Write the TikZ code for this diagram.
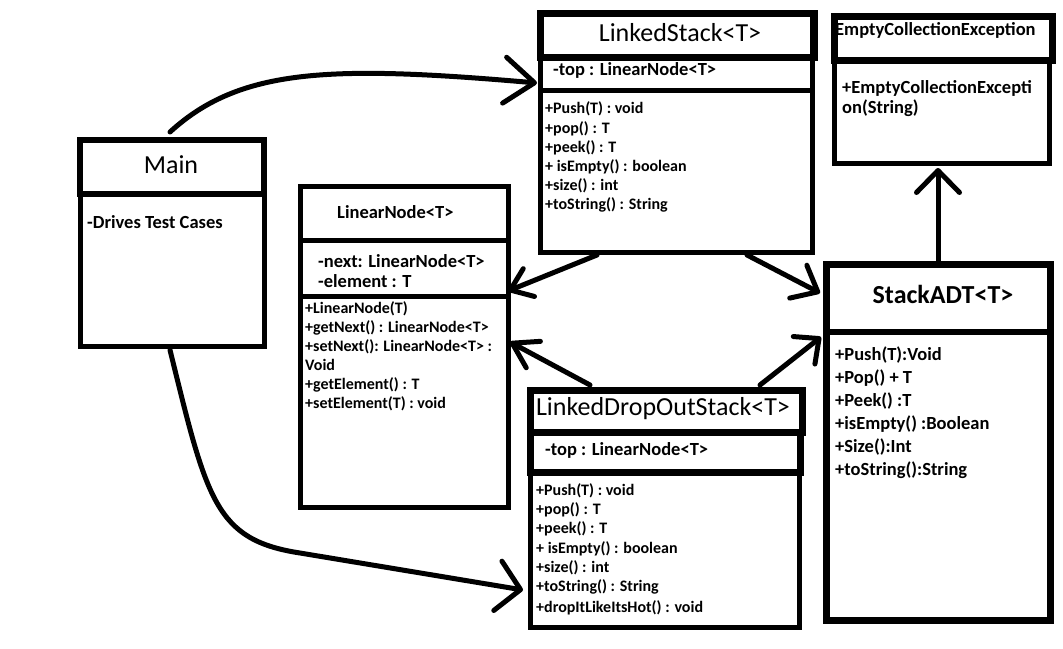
\documentclass[tikz,border=0pt]{standalone}
\usepackage{fontspec}
\setmainfont{Carlito}
\usetikzlibrary{arrows.meta}
\tikzset{
  box/.style={draw, line width=5pt, inner sep=0pt, outer sep=0pt},
  hbox/.style={box, line width=7pt},
  sep/.style={line width=5pt},
  title/.style={anchor=base, inner sep=0pt, font=\fontsize{26}{28}\selectfont},
  btitle/.style={anchor=base, inner sep=0pt, font=\bfseries\fontsize{26}{28}\selectfont},
  attr/.style={anchor=base west, inner sep=0pt, font=\bfseries\fontsize{18.5}{20}\selectfont},
  meth/.style={anchor=base west, inner sep=0pt, font=\bfseries\fontsize{16}{18}\selectfont},
  conn/.style={line width=5pt, line cap=round, line join=round},
}
\newcommand\barb[2]{-{Straight Barb[length=#1pt,width=#2pt,round]}}
\begin{document}
\begin{tikzpicture}[x=1pt,y=-1pt]
\useasboundingbox[fill=white] (0,0) rectangle (1063,648);

% ---------- Main ----------
\node[box, minimum width=184pt, minimum height=206pt] (main) at (172,243) {};
\node[box, line width=6pt, minimum width=184pt, minimum height=54pt] (mainh) at (172,167) {};
\node[title] (maint) at (171,173) {Main};
\node[attr] (maina) at (87,228) {-Drives Test Cases};

% ---------- LinkedStack ----------
\node[box, minimum width=272pt, minimum height=239pt] (ls) at (676,132.5) {};
\node[hbox, minimum width=274pt, minimum height=44pt] (lsh) at (677,35) {};
\draw[sep] (ls.west |- 0,90) -- (ls.east |- 0,90);
\node[title] (lst) at (680,41) {LinkedStack<T>};
\node[attr] (lsa) at (553,75) {-top : LinearNode<T>};
\node[meth] (lsm1) at (545,113) {+Push(T) : void};
\node[meth] (lsm2) at (545,133) {+pop() : T};
\node[meth] (lsm3) at (545,152) {+peek() : T};
\node[meth] (lsm4) at (545,171) {+ isEmpty() : boolean};
\node[meth] (lsm5) at (545,190) {+size() : int};
\node[meth] (lsm6) at (545,209) {+toString() : String};

% ---------- EmptyCollectionException ----------
\node[hbox, minimum width=218pt, minimum height=44pt] (eceh) at (943,38) {};
\node[box, minimum width=215pt, minimum height=103pt] (ece) at (941.5,111.5) {};
\node[attr] (ecet) at (835,35) {EmptyCollectionException};
\node[attr] (ecem1) at (842,93) {+EmptyCollectionExcepti};
\node[attr] (ecem2) at (842,113) {on(String)};

% ---------- LinearNode ----------
\node[box, minimum width=208pt, minimum height=321pt] (ln) at (404,346.5) {};
\draw[sep] (ln.west |- 0,240) -- (ln.east |- 0,240);
\draw[sep] (ln.west |- 0,296) -- (ln.east |- 0,296);
\node[attr] (lnt) at (337,218) {LinearNode<T>};
\node[attr] (lna1) at (318,267) {-next: LinearNode<T>};
\node[attr] (lna2) at (318,287) {-element : T};
\node[meth] (lnm1) at (305,313) {+LinearNode(T)};
\node[meth] (lnm2) at (305,332) {+getNext() : LinearNode<T>};
\node[meth] (lnm3) at (305,351) {+setNext(): LinearNode<T> :};
\node[meth] (lnm4) at (305,370) {Void};
\node[meth] (lnm5) at (305,389) {+getElement() : T};
\node[meth] (lnm6) at (305,408) {+setElement(T) : void};

% ---------- LinkedDropOutStack ----------
\node[box, minimum width=269pt, minimum height=155pt] (ld) at (664.5,549.5) {};
\node[hbox, minimum width=270pt, minimum height=40pt] (lda) at (665,452) {};
\node[hbox, minimum width=272pt, minimum height=42pt] (ldh) at (666,411) {};
\node[title] (ldt) at (663,415) {LinkedDropOutStack<T>};
\node[attr] (ldat) at (545,455) {-top : LinearNode<T>};
\node[meth] (ldm1) at (536,495) {+Push(T) : void};
\node[meth] (ldm2) at (536,514) {+pop() : T};
\node[meth] (ldm3) at (536,533) {+peek() : T};
\node[meth] (ldm4) at (536,553) {+ isEmpty() : boolean};
\node[meth] (ldm5) at (536,572) {+size() : int};
\node[meth] (ldm6) at (536,591) {+toString() : String};
\node[meth] (ldm7) at (536,612) {+dropItLikeItsHot() : void};

% ---------- StackADT ----------
\node[hbox, minimum width=224pt, minimum height=356pt] (adt) at (938,442) {};
\draw[line width=6pt] (adt.west |- 0,332) -- (adt.east |- 0,332);
\node[btitle] (adtt) at (943,303) {StackADT<T>};
\node[attr] (adtm1) at (835,360) {+Push(T):Void};
\node[attr] (adtm2) at (835,383) {+Pop() + T};
\node[attr] (adtm3) at (835,406) {+Peek() :T};
\node[attr] (adtm4) at (835,429) {+isEmpty() :Boolean};
\node[attr] (adtm5) at (835,452) {+Size():Int};
\node[attr] (adtm6) at (835,475) {+toString():String};

% ---------- connector end points ----------
\coordinate (c1s) at (170,132);  \coordinate (c1e) at (537,83);
\coordinate (c2s) at (170,350);  \coordinate (c2e) at (523,590);
\coordinate (c3s) at (597,255);  \coordinate (c3e) at (508,291);
\coordinate (c4s) at (747,255);  \coordinate (c4e) at (820,293);
\coordinate (c5s) at (590,385);  \coordinate (c5e) at (510,342);
\coordinate (c6s) at (760,385);  \coordinate (c6e) at (821,337);
\coordinate (c7s) at (938,262);  \coordinate (c7e) at (938,168);

% ---------- connectors ----------
\draw[conn, \barb{30}{46}] (c1s) .. controls (240,68) and (330,65) .. (c1e);
\draw[conn, \barb{23}{50}] (c2s) .. controls (207,500) and (215,540) .. (300,553) -- (c2e);
\draw[conn, \barb{20}{30}] (c3s) -- (c3e);
\draw[conn, \barb{22}{37}] (c4s) -- (c4e);
\draw[conn, \barb{24}{30}] (c5s) -- (c5e);
\draw[conn, \barb{19}{35}] (c6s) -- (c6e);
\draw[conn, \barb{22}{43}] (c7s) -- (c7e);
\end{tikzpicture}
\end{document}
